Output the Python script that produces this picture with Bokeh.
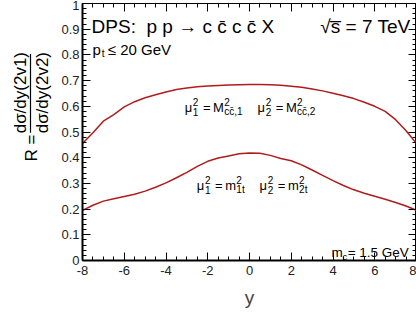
import numpy as np
from math import pi
from bokeh.plotting import figure
from bokeh.layouts import row
from bokeh.models import (Range1d, FixedTicker, LinearAxis, Label, ColumnDataSource,
                          CustomJSTickFormatter)
from bokeh.core.properties import value
from bokeh.embed import file_html
from bokeh.resources import INLINE

# ---------------- data ----------------
rapidity = [-8.0, -7.5, -7.0, -6.5, -6.0, -5.5, -5.0, -4.5, -4.0, -3.5, -3.0, -2.5, -2.0,
            -1.5, -1.0, -0.5, 0.0, 0.5, 1.0, 1.5, 2.0, 2.5, 3.0, 3.5, 4.0, 4.5, 5.0,
            5.5, 6.0, 6.5, 7.0, 7.5, 8.0]
# mu^2 = M^2_{c cbar}
ratio_mcc = [0.455, 0.497, 0.542, 0.568, 0.598, 0.618, 0.633, 0.645, 0.656, 0.665, 0.671,
             0.676, 0.679, 0.681, 0.683, 0.684, 0.685, 0.685, 0.684, 0.682, 0.678, 0.674,
             0.667, 0.660, 0.651, 0.641, 0.630, 0.616, 0.600, 0.580, 0.548, 0.505, 0.455]
# mu^2 = m^2_t
ratio_mt = [0.195, 0.215, 0.231, 0.240, 0.249, 0.258, 0.270, 0.285, 0.302, 0.322, 0.343,
            0.366, 0.386, 0.399, 0.407, 0.415, 0.418, 0.417, 0.409, 0.397, 0.388, 0.372,
            0.352, 0.331, 0.311, 0.292, 0.275, 0.262, 0.250, 0.238, 0.226, 0.212, 0.195]

x_ticks = [-8, -6, -4, -2, 0, 2, 4, 6, 8]
x_tick_labels = ["-8", "-6", "-4", "-2", "0", "2", "4", "6", "8"]
x_minor = list(np.arange(-8, 8.01, 0.5))
y_ticks = [0.0, 0.1, 0.2, 0.3, 0.4, 0.5, 0.6, 0.7, 0.8, 0.9, 1.0]
y_tick_labels = ["0", "0.1", "0.2", "0.3", "0.4", "0.5", "0.6", "0.7", "0.8", "0.9", "1"]
y_minor = list(np.round(np.arange(0, 1.001, 0.02), 3))

y_title_numerator = "d\u03c3/dy(2v1)"
y_title_denominator = "d\u03c3/dy(2v2)"
y_title_lhs = "R ="
x_title = "y"

FONT = "Liberation Sans"
RED = "#b01c1c"
H = 320
LEFT_W = 58

# ---------------- main plot ----------------
p = figure(width=358, height=H, x_range=Range1d(-8, 8), y_range=Range1d(0, 1),
           output_backend="svg", toolbar_location=None,
           min_border_left=24, min_border_right=0, min_border_top=3, min_border_bottom=60)
p.grid.visible = False
p.outline_line_color = "black"
p.background_fill_color = "white"
p.border_fill_color = "white"

def style_axis(ax, ticks, minor, labels, show_labels=True, lw=2):
    ax.ticker = FixedTicker(ticks=ticks, minor_ticks=minor)
    ax.major_tick_in = 8
    ax.major_tick_out = 0
    ax.minor_tick_in = 4
    ax.minor_tick_out = 0
    ax.axis_line_width = lw
    ax.major_tick_line_width = 1
    ax.minor_tick_line_width = 1
    ax.axis_line_color = "black"
    if show_labels:
        ax.major_label_overrides = {t: l for t, l in zip(ticks, labels)}
        ax.major_label_text_font = FONT
        ax.major_label_text_font_size = "13px"
        ax.major_label_text_color = "#222222"
    else:
        ax.formatter = CustomJSTickFormatter(code="return ''")
        ax.major_label_text_font_size = "0px"
        ax.major_label_standoff = 0

style_axis(p.xaxis[0], x_ticks, x_minor, x_tick_labels)
p.xaxis[0].major_label_standoff = 5
p.xaxis[0].axis_label = x_title
p.xaxis[0].axis_label_text_font = FONT
p.xaxis[0].axis_label_text_font_size = "19px"
p.xaxis[0].axis_label_text_font_style = "normal"
p.xaxis[0].axis_label_standoff = 9
style_axis(p.yaxis[0], y_ticks, y_minor, y_tick_labels)
p.yaxis[0].major_label_standoff = 3

top = LinearAxis()
style_axis(top, x_ticks, x_minor, x_tick_labels, show_labels=False, lw=1)
p.add_layout(top, "above")
right = LinearAxis()
style_axis(right, y_ticks, y_minor, y_tick_labels, show_labels=False, lw=1)
p.add_layout(right, "right")

p.line(rapidity, ratio_mcc, line_color=RED, line_width=1.5)
p.line(rapidity, ratio_mt, line_color=RED, line_width=1.5)

# ---------- text helpers (page pixel -> data coords) ----------
FL, FR, FT, FB = 82, 412, 3, 260
def dx(px):
    return -8 + (px - FL) * 16.0 / (FR - FL)
def dy(py):
    return (FB - py) / float(FB - FT)
def lab(text, px, py, size, align="left", baseline="alphabetic"):
    p.add_layout(Label(x=dx(px), y=dy(py), text=text, text_font=FONT,
                       text_font_size=f"{size}px", text_align=align,
                       text_baseline=baseline, text_color="black"))

# title line
lab("DPS:\u00a0 p p \u2192 c c\u0304 c c\u0304 X", 91, 26, 19)
lab("\u221as\u0305 = 7 TeV", 317, 26, 19)
# pt cut
lab("p", 92, 49, 15)
lab("t", 101, 53, 10)
lab("\u2264 20 GeV", 107, 49, 15)
# charm mass
lab("m", 328, 252, 13.5)
lab("c", 339, 256, 9.5)
lab("= 1.5 GeV", 344, 252, 13.5)

def mu_label(x0, base, idx, big, sub):
    lab("\u03bc", x0, base, 13)
    lab("2", x0 + 8, base - 6, 10)
    lab(idx, x0 + 8, base + 4, 10)
    lab("=", x0 + 18, base, 13)
    lab(big, x0 + 28, base, 13)
    lab("2", x0 + 39, base - 6, 10)
    lab(sub, x0 + 39, base + 4, 10)

mu_label(183, 107, "1", "M", "cc\u0304,1")
mu_label(255, 107, "2", "M", "cc\u0304,2")
mu_label(195, 185, "1", "m", "1t")
mu_label(257, 185, "2", "m", "2t")

# ---------------- left strip with the y title (a fraction) ----------------
lf = figure(width=LEFT_W, height=H, x_range=Range1d(0, LEFT_W), y_range=Range1d(H, 0),
            output_backend="svg", toolbar_location=None, min_border=0,
            x_axis_location=None, y_axis_location=None)
lf.grid.visible = False
lf.outline_line_color = None
lf.background_fill_color = "white"
lf.border_fill_color = "white"

# positions in this strip's pixel space
src = ColumnDataSource(dict(x=[19.5, 41.5, 31.0], y=[111.0, 111.0, 180.0],
                            t=[y_title_numerator, y_title_denominator, y_title_lhs]))
lf.text(x="x", y="y", text="t", source=src, angle=pi / 2, text_font=value(FONT),
        text_font_size="17px", text_align="center", text_baseline="middle",
        text_color="black")
lf.segment(x0=[30.0], y0=[63.0], x1=[30.0], y1=[161.0], line_color="black", line_width=1.2)

layout = row(lf, p, spacing=0)
open("out.html", "w").write(file_html(layout, INLINE))
